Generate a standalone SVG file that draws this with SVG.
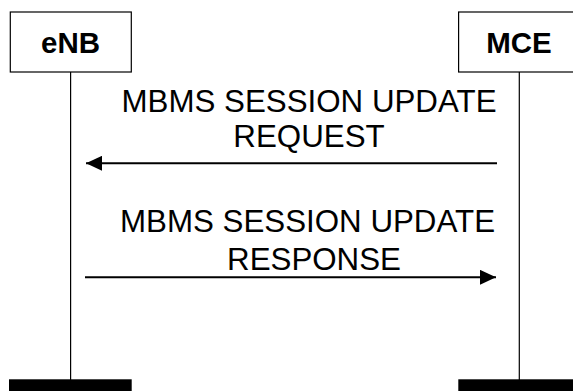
<svg xmlns="http://www.w3.org/2000/svg" width="573" height="391" viewBox="0 0 573 391">
<style>
.box{fill:#fff;stroke:#000;stroke-width:1.2}
.life{stroke:#000;stroke-width:1.2}
.bar{fill:#000}
.title{font-family:"Liberation Sans",Arial,sans-serif;font-weight:bold;font-size:29.5px;text-anchor:middle;fill:#000}
.lbl{font-family:"Liberation Sans",Arial,sans-serif;font-size:31.3px;text-anchor:middle;fill:#000}
.msg{stroke:#000;stroke-width:2;fill:none}
</style>
<defs>
<marker id="ah" markerUnits="userSpaceOnUse" markerWidth="16" markerHeight="15" refX="16" refY="7.5" orient="auto">
<path d="M0,0 L16,7.5 L0,15 z" fill="#000"/>
</marker>
</defs>
<rect width="573" height="391" fill="#fff"/>
<g id="eNB">
<line class="life" x1="70.6" y1="72" x2="70.6" y2="380"/>
<rect class="box" x="10.3" y="12" width="121" height="60"/>
<text class="title" x="70.5" y="53">eNB</text>
<rect class="bar" x="9" y="379.3" width="122.7" height="12"/>
</g>
<g id="MCE">
<line class="life" x1="519.3" y1="72" x2="519.3" y2="380"/>
<rect class="box" x="458.6" y="12" width="122" height="60"/>
<text class="title" x="519" y="53">MCE</text>
<rect class="bar" x="458.3" y="379.3" width="115" height="12"/>
</g>
<g id="connectors">
<line class="msg" x1="497" y1="163.3" x2="86" y2="163.3" marker-end="url(#ah)"/>
<line class="msg" x1="85" y1="277.3" x2="496" y2="277.3" marker-end="url(#ah)"/>
</g>
<g id="labels">
<text class="lbl" x="309" y="111.7">MBMS SESSION UPDATE</text>
<text class="lbl" x="309" y="147.4">REQUEST</text>
<text class="lbl" x="307.5" y="232.3">MBMS SESSION UPDATE</text>
<text class="lbl" x="314" y="270">RESPONSE</text>
</g>
</svg>
